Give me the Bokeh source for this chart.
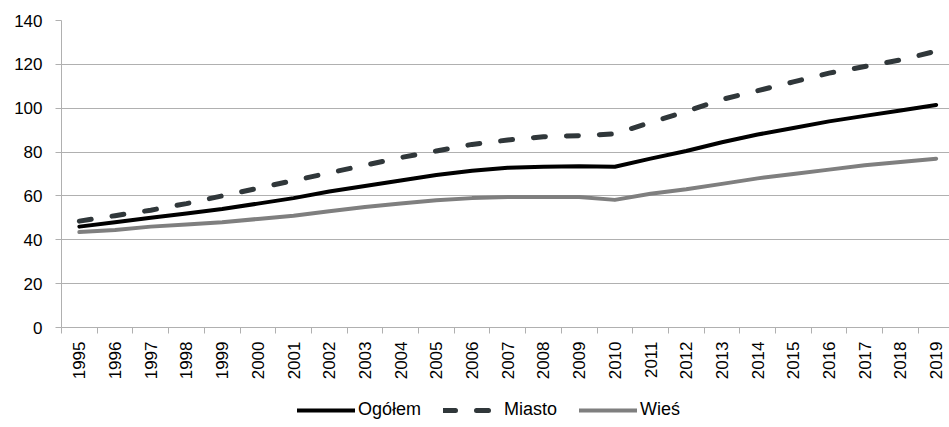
import math
from bokeh.plotting import figure
from bokeh.layouts import column
from bokeh.models import Range1d, FixedTicker, Legend, LegendItem
from bokeh.embed import file_html
from bokeh.resources import INLINE

years = list(range(1995, 2020))
year_labels = [str(y) for y in years]
ogolem = [46, 48, 50, 52, 54, 56.5, 59, 62, 64.5, 67, 69.5, 71.5, 72.8, 73.3, 73.5, 73.3,
          77, 80.5, 84.5, 88, 91, 94, 96.5, 99, 101.5]
miasto = [48.5, 51, 53.5, 56.5, 60, 63.5, 67, 70.5, 74, 77.5, 80.5, 83.5, 85.5, 87, 87.5, 88.3,
          93.5, 98.5, 104, 108, 112, 116, 119, 122, 126]
wies = [43.5, 44.5, 46, 47, 48, 49.5, 51, 53, 55, 56.5, 58, 59, 59.5, 59.5, 59.5, 58.2,
        61, 63, 65.5, 68, 70, 72, 74, 75.5, 77]
y_ticks = [0, 20, 40, 60, 80, 100, 120, 140]
series_names = ["Ogółem", "Miasto", "Wieś"]

FONT = "Liberation Sans"
GRID = "#b0b0b0"
FW = 888

STYLES = [
    dict(line_color="#000000", line_width=4, line_join="round", line_cap="round"),
    dict(line_color="#30373a", line_width=5, line_dash="12 21", line_join="round", line_cap="round"),
    dict(line_color="#7f7f7f", line_width=4, line_join="round", line_cap="round"),
]
SERIES = [ogolem, miasto, wies]

p = figure(width=949, height=379, frame_width=FW, frame_height=307,
           output_backend="svg", toolbar_location=None,
           x_range=Range1d(1994.5, 1994.5 + FW / 35.7), y_range=Range1d(0, 140),
           min_border_left=61, min_border_top=20, min_border_right=0, min_border_bottom=0)
p.outline_line_color = None
p.background_fill_color = "white"
p.border_fill_color = "white"

for vals, st in zip(SERIES, STYLES):
    p.line(years, vals, **st)

# x axis
xa = p.xaxis[0]
xa.ticker = FixedTicker(ticks=years, minor_ticks=[y - 0.5 for y in years] + [years[-1] + 0.5])
xa.major_label_overrides = {y: l for y, l in zip(years, year_labels)}
xa.major_label_orientation = math.pi / 2
xa.major_tick_out = 0
xa.major_tick_in = 0
xa.minor_tick_out = 6
xa.minor_tick_in = 0
xa.minor_tick_line_color = GRID
xa.axis_line_color = GRID
xa.major_label_standoff = 8
xa.major_label_text_font = FONT
xa.major_label_text_font_size = "17px"
xa.major_label_text_color = "#000000"
p.xgrid.grid_line_color = None

# y axis
ya = p.yaxis[0]
ya.ticker = FixedTicker(ticks=y_ticks)
ya.major_tick_out = 6
ya.major_tick_in = 0
ya.minor_tick_line_color = None
ya.major_tick_line_color = GRID
ya.axis_line_color = GRID
ya.major_label_standoff = 13
ya.major_label_text_font = FONT
ya.major_label_text_font_size = "17px"
ya.major_label_text_color = "#000000"
p.ygrid.grid_line_color = GRID
p.ygrid.grid_line_width = 1

# legend strip below the chart (its lines hold the same data, kept out of view)
lf = figure(width=949, height=48, output_backend="svg", toolbar_location=None,
            x_range=Range1d(0, 1), y_range=Range1d(0, 1),
            x_axis_type=None, y_axis_type=None, min_border=0)
lf.outline_line_color = None
lf.background_fill_color = "white"
lf.border_fill_color = "white"
lrs = [lf.line(years, vals, **st) for vals, st in zip(SERIES, STYLES)]

legend = Legend(items=[LegendItem(label=n, renderers=[r]) for n, r in zip(series_names, lrs)],
                orientation="horizontal", location=(236, 10),
                border_line_color=None, background_fill_alpha=0,
                glyph_width=58, glyph_height=20, label_standoff=3, spacing=22,
                padding=0, margin=0, label_text_font=FONT, label_text_font_size="18px",
                label_text_color="#000000", label_height=20)
lf.add_layout(legend, "center")

open("out.html", "w").write(file_html(column(p, lf, spacing=0), INLINE))
